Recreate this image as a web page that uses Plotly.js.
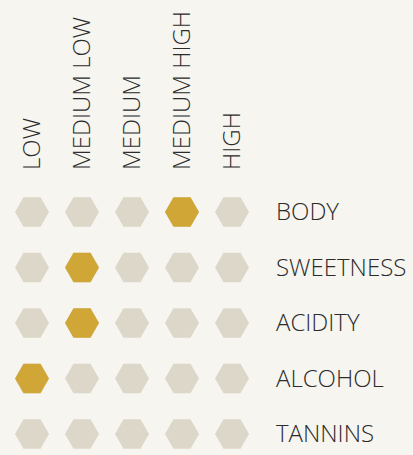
<!DOCTYPE html>
<html>
<head>
<meta charset="utf-8">
<script src="https://cdn.plot.ly/plotly-3.0.1.min.js"></script>
<style>html,body{margin:0;padding:0;background:#f6f5f0;}#chart{width:413px;height:455px;}</style>
</head>
<body>
<div id="chart"></div>
<script>
var levels = ['LOW', 'MEDIUM LOW', 'MEDIUM', 'MEDIUM HIGH', 'HIGH'];
var attributes = ['BODY', 'SWEETNESS', 'ACIDITY', 'ALCOHOL', 'TANNINS'];
var ratings = ['MEDIUM HIGH', 'MEDIUM LOW', 'MEDIUM LOW', 'LOW', null];

var gx = [], gy = [];
attributes.forEach(function (a) {
  levels.forEach(function (l) { gx.push(l); gy.push(a); });
});
var sx = [], sy = [];
attributes.forEach(function (a, i) {
  if (ratings[i] !== null) { sx.push(ratings[i]); sy.push(a); }
});

var grid = {
  type: 'scatter', mode: 'markers', x: gx, y: gy, hoverinfo: 'skip',
  marker: { symbol: 'hexagon2', size: 34, color: '#ddd7ca', line: { width: 0 } }
};
var sel = {
  type: 'scatter', mode: 'markers', x: sx, y: sy, hoverinfo: 'skip',
  marker: { symbol: 'hexagon2', size: 34, color: '#d0a736', line: { width: 0 } }
};

var font = { family: 'Open Sans, sans-serif', size: 24, color: '#2b2b2b', weight: 300 };

var layout = {
  width: 413, height: 455,
  paper_bgcolor: '#f6f5f0', plot_bgcolor: '#f6f5f0',
  margin: { l: 7, r: 156, t: 175, b: 0 },
  showlegend: false,
  font: font,
  xaxis: {
    type: 'category', categoryorder: 'array', categoryarray: levels,
    side: 'top', range: [-0.5, 4.5], tickangle: -90,
    showgrid: false, zeroline: false, showline: false, ticks: '',
    ticklabelstandoff: 4, tickfont: font, fixedrange: true
  },
  yaxis: {
    type: 'category', categoryorder: 'array', categoryarray: attributes,
    side: 'right', range: [4.378, -0.667],
    showgrid: false, zeroline: false, showline: false, ticks: '',
    ticklabelstandoff: 18, tickfont: font, fixedrange: true
  }
};

Plotly.newPlot('chart', [grid, sel], layout, { displayModeBar: false, staticPlot: true });
</script>
</body>
</html>
